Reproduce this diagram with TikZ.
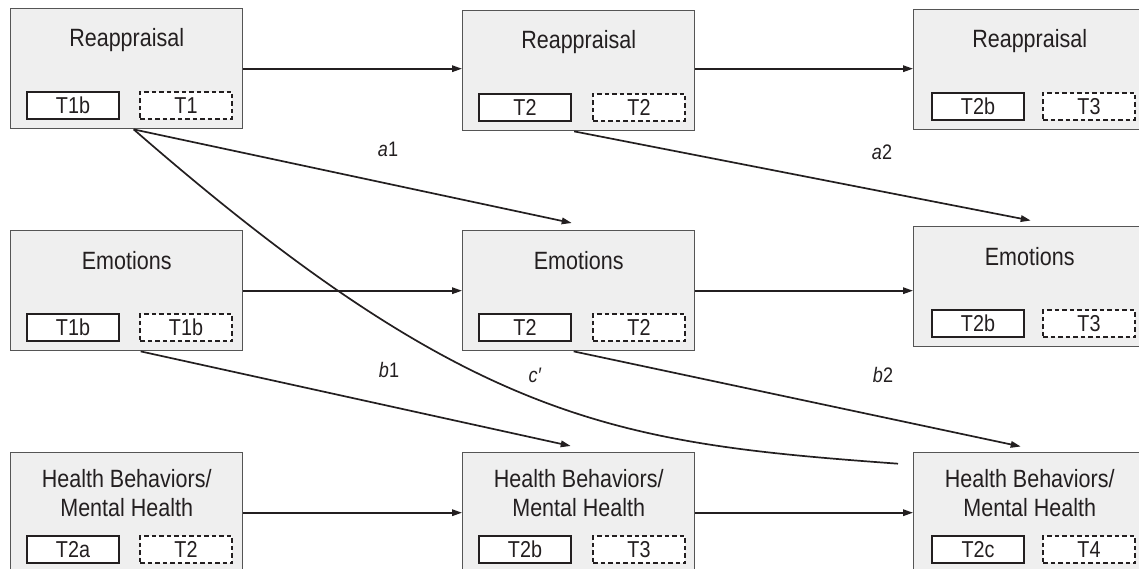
\documentclass[tikz,border=0pt]{standalone}
\usepackage{fontspec}
\setmainfont{Liberation Sans}[FakeStretch=0.86]
\usetikzlibrary{arrows.meta}
\definecolor{ink}{HTML}{231F20}
\definecolor{boxfill}{HTML}{EFEFEF}
\definecolor{boxline}{HTML}{555555}
\begin{document}
\begin{tikzpicture}[x=1pt,y=-1pt,
  panel/.style={draw=boxline, fill=boxfill, line width=1.4pt, minimum width=232pt, minimum height=120pt, inner sep=0pt, anchor=north west},
  title/.style={anchor=base, text=ink, font=\fontsize{25}{29}\selectfont, inner sep=0pt},
  tag/.style={draw=ink, fill=white, line width=1.2pt, minimum width=92pt, minimum height=27pt, inner sep=0pt, text height=16.5pt, text depth=0pt, text=ink, font=\fontsize{23}{27}\selectfont},
  tagd/.style={tag, dash pattern=on 4.5pt off 3pt},
  conn/.style={draw=ink, line width=1.7pt, -{Triangle[length=10pt,width=6.5pt]}},
  plain/.style={draw=ink, line width=1.7pt},
  lab/.style={anchor=base, text=ink, font=\fontsize{21}{25}\selectfont, inner sep=0pt}]
\useasboundingbox (0,0) rectangle (1139,569);
\clip (0,0) rectangle (1139,569);
% panels
\node[panel] (r1) at (10,8) {};
\node[panel] (r2) at (462,10) {};
\node[panel] (r3) at (913,9) {};
\node[panel] (e1) at (10,230) {};
\node[panel] (e2) at (462,230) {};
\node[panel] (e3) at (913,226) {};
\node[panel] (h1) at (10,452) {};
\node[panel] (h2) at (462,452) {};
\node[panel] (h3) at (913,452) {};
% titles
\node[title] (r1t) at ([yshift=-39pt]r1.north) {Reappraisal};
\node[title] (r2t) at ([yshift=-39pt]r2.north) {Reappraisal};
\node[title] (r3t) at ([yshift=-39pt]r3.north) {Reappraisal};
\node[title] (e1t) at ([yshift=-39pt]e1.north) {Emotions};
\node[title] (e2t) at ([yshift=-39pt]e2.north) {Emotions};
\node[title] (e3t) at ([yshift=-39pt]e3.north) {Emotions};
\foreach \h in {h1,h2,h3}{
  \node[title] (\h ta) at ([yshift=-35pt]\h.north) {Health Behaviors/};
  \node[title] (\h tb) at ([yshift=-64pt]\h.north) {Mental Health};
}
% tags
\node[tag]  (r1a) at ([xshift=63pt,yshift=-97.5pt]r1.north west) {T1b};
\node[tagd] (r1b) at ([xshift=176pt,yshift=-97.5pt]r1.north west) {T1};
\node[tag]  (r2a) at ([xshift=63pt,yshift=-97.5pt]r2.north west) {T2};
\node[tagd] (r2b) at ([xshift=177pt,yshift=-97.5pt]r2.north west) {T2};
\node[tag]  (r3a) at ([xshift=65pt,yshift=-97.5pt]r3.north west) {T2b};
\node[tagd] (r3b) at ([xshift=176pt,yshift=-97.5pt]r3.north west) {T3};
\node[tag]  (e1a) at ([xshift=63pt,yshift=-97.5pt]e1.north west) {T1b};
\node[tagd] (e1b) at ([xshift=176pt,yshift=-97.5pt]e1.north west) {T1b};
\node[tag]  (e2a) at ([xshift=63pt,yshift=-97.5pt]e2.north west) {T2};
\node[tagd] (e2b) at ([xshift=177pt,yshift=-97.5pt]e2.north west) {T2};
\node[tag]  (e3a) at ([xshift=65pt,yshift=-97.5pt]e3.north west) {T2b};
\node[tagd] (e3b) at ([xshift=176pt,yshift=-97.5pt]e3.north west) {T3};
\node[tag]  (h1a) at ([xshift=63pt,yshift=-97.5pt]h1.north west) {T2a};
\node[tagd] (h1b) at ([xshift=176pt,yshift=-97.5pt]h1.north west) {T2};
\node[tag]  (h2a) at ([xshift=63pt,yshift=-97.5pt]h2.north west) {T2b};
\node[tagd] (h2b) at ([xshift=177pt,yshift=-97.5pt]h2.north west) {T3};
\node[tag]  (h3a) at ([xshift=65pt,yshift=-97.5pt]h3.north west) {T2c};
\node[tagd] (h3b) at ([xshift=176pt,yshift=-97.5pt]h3.north west) {T4};
% horizontal connectors
\draw[conn] (r1.east) -- (r1.east -| r2.west);
\draw[conn] (r1.east -| r2.east) -- (r1.east -| r3.west);
\draw[conn] (e1.east) -- (e1.east -| e2.west);
\draw[conn] (e1.east -| e2.east) -- (e1.east -| e3.west);
\draw[conn] (h1.east) -- (h1.east -| h2.west);
\draw[conn] (h1.east -| h2.east) -- (h1.east -| h3.west);
% diagonal connectors
\draw[conn] ([xshift=7pt]r1.south) -- ([xshift=-7pt,yshift=7pt]e2.north);
\draw[conn] ([xshift=-4.5pt]r2.south) -- ([xshift=1pt,yshift=5.5pt]e3.north);
\draw[conn] ([xshift=14pt]e1.south) -- ([xshift=-8pt,yshift=6pt]h2.north);
\draw[conn] ([xshift=-5pt]e2.south) -- ([xshift=-9pt,yshift=5.5pt]h3.north);
\coordinate (cend) at ([xshift=-15pt,yshift=49pt]h3.west);
\draw[plain] ([xshift=7pt]r1.south) .. controls (473,425) and (617,443) .. (cend);
% labels
\node[lab] (la1) at (388,157) {\textit{a}1};
\node[lab] (la2) at (882,160) {\textit{a}2};
\node[lab] (lb1) at (389,377) {\textit{b}1};
\node[lab] (lc)  at (535,382) {\textit{c′}};
\node[lab] (lb2) at (883,382) {\textit{b}2};
\end{tikzpicture}
\end{document}
